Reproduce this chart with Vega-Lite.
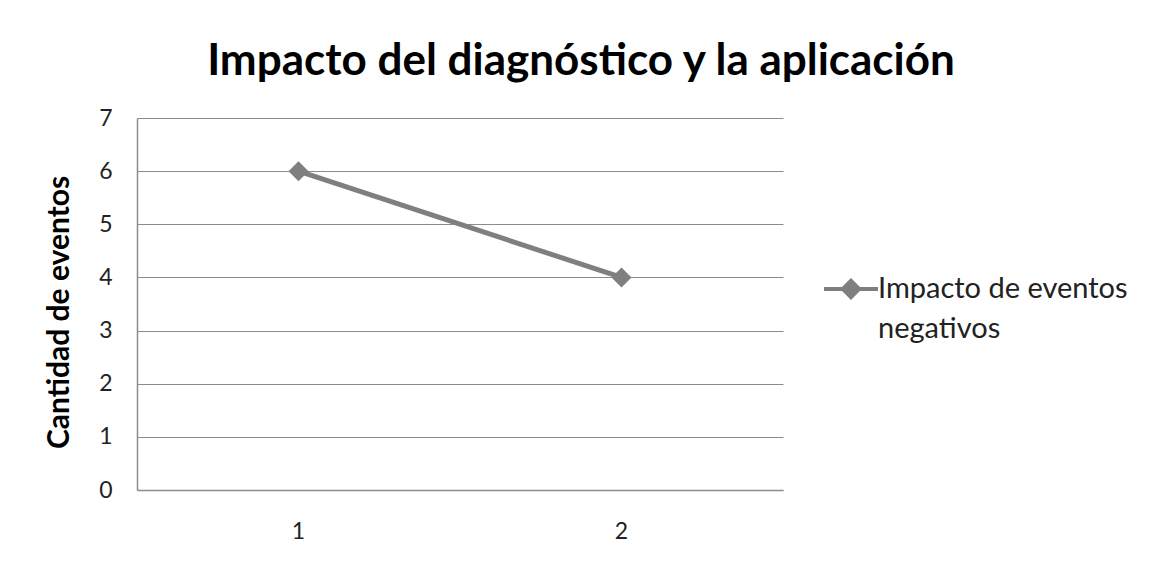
{
  "$schema": "https://vega.github.io/schema/vega-lite/v6.json",
  "width": 646,
  "height": 372,
  "autosize": {"type": "none"},
  "padding": {"left": 137, "top": 118, "right": 367, "bottom": 76},
  "background": "white",
  "title": {
    "text": "Impacto del diagnóstico y la aplicación",
    "font": "Lato",
    "fontSize": 44,
    "fontWeight": "bold",
    "color": "#000000",
    "anchor": "middle",
    "baseline": "alphabetic",
    "dx": 121,
    "offset": -12
  },
  "data": {
    "values": [
      {"x": "1", "cantidad": 6, "serie": "Impacto de eventos negativos"},
      {"x": "2", "cantidad": 4, "serie": "Impacto de eventos negativos"}
    ]
  },
  "mark": {
    "type": "line",
    "strokeWidth": 5,
    "point": {"shape": "diamond", "size": 400, "filled": true, "color": "#7f7f7f"}
  },
  "encoding": {
    "x": {
      "field": "x",
      "type": "ordinal",
      "scale": {"type": "band", "paddingInner": 0, "paddingOuter": 0},
      "axis": {
        "title": null,
        "labelAngle": 0,
        "labelFont": "Lato",
        "labelFontSize": 23,
        "labelColor": "#222222",
        "labelPadding": 30,
        "ticks": false,
        "grid": false,
        "domain": true,
        "domainColor": "#8c8c8c",
        "domainWidth": 1.5
      }
    },
    "y": {
      "field": "cantidad",
      "type": "quantitative",
      "scale": {"domain": [0, 7], "nice": false},
      "axis": {
        "title": "Cantidad de eventos",
        "titleFont": "Lato",
        "titleFontSize": 30,
        "titleFontWeight": "bold",
        "titleColor": "#000000",
        "titlePadding": 24,
        "titleY": 194,
        "values": [0, 1, 2, 3, 4, 5, 6, 7],
        "labelFont": "Lato",
        "labelFontSize": 23,
        "labelColor": "#222222",
        "labelPadding": 25,
        "ticks": false,
        "grid": true,
        "gridColor": "#8c8c8c",
        "gridWidth": 1,
        "domain": true,
        "domainColor": "#8c8c8c",
        "domainWidth": 1.5
      }
    },
    "color": {
      "field": "serie",
      "type": "nominal",
      "scale": {"range": ["#7f7f7f"]},
      "legend": {
        "title": null,
        "orient": "none",
        "legendX": 685,
        "legendY": 142,
        "padding": 0,
        "symbolType": "M-1,0H1M-0.3,0L0,-0.3L0.3,0L0,0.3Z",
        "symbolSize": 2916,
        "symbolStrokeWidth": 4,
        "symbolStrokeColor": "#7f7f7f",
        "symbolFillColor": "#7f7f7f",
        "symbolOffset": 0,
        "labelOffset": -2,
        "labelFont": "Lato",
        "labelFontSize": 29,
        "labelColor": "#222222",
        "labelLimit": 400,
        "labelBaseline": "middle",
        "labelExpr": "['Impacto de eventos', 'negativos']"
      }
    }
  },
  "config": {
    "view": {"stroke": null},
    "style": {"guide-label": {"lineHeight": 40}}
  }
}
